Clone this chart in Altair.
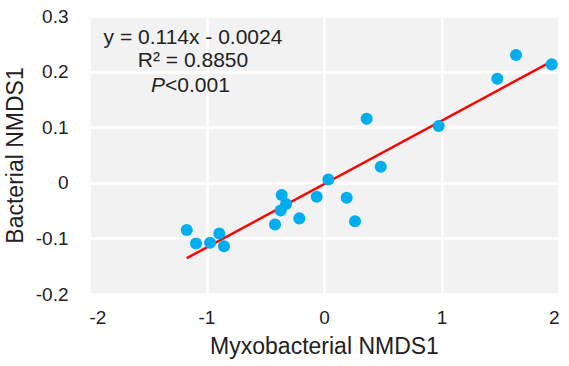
import altair as alt
import pandas as pd

# Data
myxo_nmds1 = [-1.168, -1.089, -0.970, -0.891, -0.851, -0.417, -0.369, -0.360, -0.323,
              -0.210, -0.062, 0.037, 0.193, 0.264, 0.363, 0.483, 0.976, 1.475, 1.634, 1.938]
bact_nmds1 = [-0.085, -0.109, -0.108, -0.091, -0.114, -0.075, -0.050, -0.022, -0.038,
              -0.064, -0.025, 0.006, -0.027, -0.069, 0.115, 0.029, 0.102, 0.187, 0.230, 0.213]

slope = 0.114
intercept = -0.0024
eq_lines = ["y = 0.114x - 0.0024", "R\u00b2 = 0.8850"]
p_italic = "P"
p_rest = "<0.001"

x_ticks = [-2, -1, 0, 1, 2]
y_ticks = [-0.2, -0.1, 0, 0.1, 0.2, 0.3]

FONT = "Liberation Sans"
TXT = "#222222"

pts = pd.DataFrame({"x": myxo_nmds1, "y": bact_nmds1})
xmin, xmax = min(myxo_nmds1), max(myxo_nmds1)
fit = pd.DataFrame({"x": [xmin, xmax], "y": [slope * xmin + intercept, slope * xmax + intercept]})

xenc = alt.X("x:Q", scale=alt.Scale(domain=[-2, 2], nice=False),
             axis=alt.Axis(values=x_ticks, title="Myxobacterial NMDS1",
                           labelExpr="datum.value < 0 ? '-' + format(-datum.value, 'd') : format(datum.value, 'd')",
                           labelFontSize=19, titleFontSize=23, labelPadding=14,
                           titlePadding=8, domain=False, ticks=False,
                           labelFont=FONT, titleFont=FONT, labelColor=TXT, titleColor=TXT,
                           titleFontWeight="normal"))
yenc = alt.Y("y:Q", scale=alt.Scale(domain=[-0.2, 0.3], nice=False),
             axis=alt.Axis(values=y_ticks, title="Bacterial NMDS1",
                           labelExpr="datum.value == 0 ? '0' : (datum.value < 0 ? '-' : '') + format(abs(datum.value), '.1f')",
                           labelFontSize=19, titleFontSize=23, labelPadding=21,
                           titlePadding=8, domain=False, ticks=False,
                           labelFont=FONT, titleFont=FONT, labelColor=TXT, titleColor=TXT,
                           titleFontWeight="normal"))

points = alt.Chart(pts).mark_circle(size=145, color="#00AEEF", opacity=1).encode(x=xenc, y=yenc)
line = alt.Chart(fit).mark_line(color="#FF0000", strokeWidth=2.5).encode(x="x:Q", y="y:Q")

eq_df = pd.DataFrame({"t": eq_lines, "py": [22, 45]})
eq = alt.Chart(eq_df).mark_text(font=FONT, fontSize=21, color=TXT, align="center",
                                baseline="middle").encode(
    x=alt.value(104), y=alt.Y("py:Q", scale=None), text="t:N")

p1 = alt.Chart(pd.DataFrame({"t": [p_italic]})).mark_text(
    font=FONT, fontSize=21, fontStyle="italic", color=TXT, align="right", baseline="middle"
).encode(x=alt.value(76), y=alt.value(70), text="t:N")
p2 = alt.Chart(pd.DataFrame({"t": [p_rest]})).mark_text(
    font=FONT, fontSize=21, color=TXT, align="left", baseline="middle"
).encode(x=alt.value(76), y=alt.value(70), text="t:N")

chart = alt.layer(line, points, eq, p1, p2).properties(
    width=470, height=278,
    autosize=alt.AutoSizeParams(type="none"),
    padding={"left": 89, "top": 16, "right": 10, "bottom": 72},
    background="white",
).configure_view(fill="#F2F2F2", stroke=None).configure_axis(
    gridColor="white", gridWidth=2.5, gridOpacity=1
)

chart.save("out.html", embed_options={"renderer": "svg", "actions": False})
